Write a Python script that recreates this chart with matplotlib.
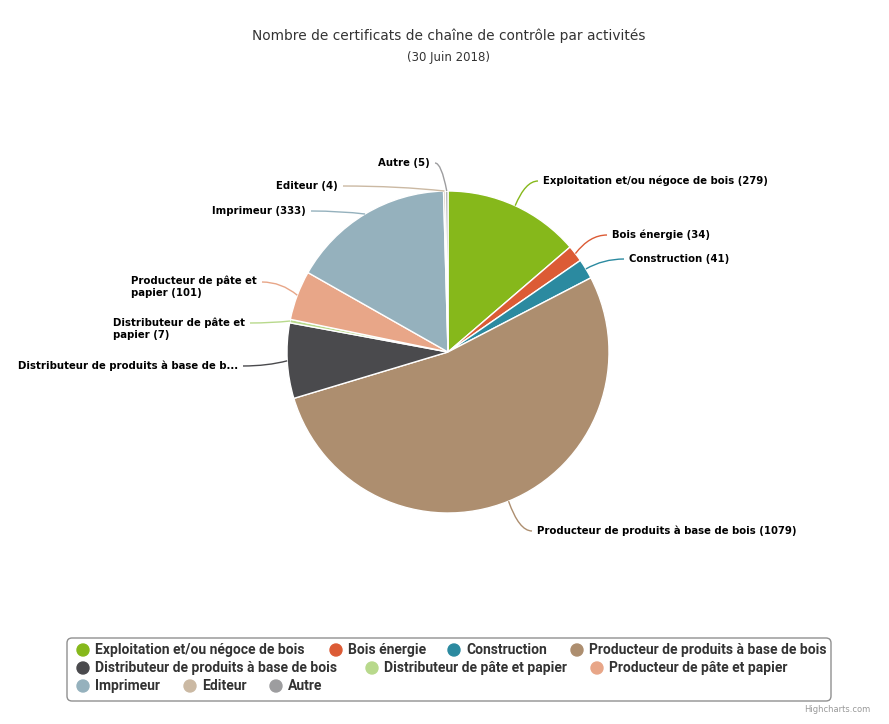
import matplotlib
matplotlib.use("Agg")
import matplotlib.pyplot as plt
from matplotlib.patches import Circle, FancyBboxPatch, PathPatch
from matplotlib.path import Path
import numpy as np

W, H = 889, 724

categories = [
    "Exploitation et/ou négoce de bois",
    "Bois énergie",
    "Construction",
    "Producteur de produits à base de bois",
    "Distributeur de produits à base de bois",
    "Distributeur de pâte et papier",
    "Producteur de pâte et papier",
    "Imprimeur",
    "Editeur",
    "Autre",
]
values = [279, 34, 41, 1079, 154, 7, 101, 333, 4, 5]
colors = ["#86b81b", "#dc5b35", "#2b8aa0", "#ad8e6f", "#4a4a4d",
          "#b8d98c", "#e8a688", "#95b1bd", "#cbb9a3", "#9d9d9f"]
pie_labels = [
    "Exploitation et/ou négoce de bois (279)",
    "Bois énergie (34)",
    "Construction (41)",
    "Producteur de produits à base de bois (1079)",
    "Distributeur de produits à base de b...",
    "Distributeur de pâte et\npapier (7)",
    "Producteur de pâte et\npapier (101)",
    "Imprimeur (333)",
    "Editeur (4)",
    "Autre (5)",
]

# label anchors in pixels (x, y of first line, side)
label_pos = [(543, 181, "r"), (612, 235, "r"), (629, 259, "r"), (537, 531, "r"),
             (238, 366, "l"), (245, 323, "l"), (257, 282, "l"), (306, 211, "l"),
             (338, 186, "l"), (430, 163, "l")]

# legend rows: item indices and marker x position
legend_rows = [[(0, 83), (1, 336), (2, 454), (3, 577)],
               [(4, 83), (5, 372), (6, 597)],
               [(7, 83), (8, 190), (9, 276)]]
legend_y = [650, 668, 686]


def fy(py):
    return H - py


fig = plt.figure(figsize=(W / 100, H / 100), dpi=100)
ax = fig.add_axes([0, 0, 1, 1])

cx, cy, R = 448, fy(352), 161
wedges, _ = ax.pie(values, colors=colors, startangle=90, counterclock=False,
                   radius=R, center=(cx, cy),
                   wedgeprops=dict(edgecolor="white", linewidth=1))
ax.set_xlim(0, W)
ax.set_ylim(0, H)
ax.set_aspect("equal")
ax.axis("off")

lab_font = dict(family="DejaVu Sans", fontsize=7.3, fontweight="bold", color="#000000")
for w, lab, (lx, ly, side), col in zip(wedges, pie_labels, label_pos, colors):
    m = np.deg2rad((w.theta1 + w.theta2) / 2)
    p0 = (cx + R * np.cos(m), cy + R * np.sin(m))
    if side == "r":
        p2 = (lx - 5, fy(ly))
        ax.text(lx, fy(ly), lab, ha="left", va="center", **lab_font)
    else:
        p2 = (lx + 5, fy(ly))
        if "\n" in lab:
            ax.text(lx, fy(ly) + 6, lab, ha="right", va="top", multialignment="left",
                    linespacing=1.25, **lab_font)
        else:
            ax.text(lx, fy(ly), lab, ha="right", va="center", **lab_font)
    p1 = (p0[0] + 0.45 * (p2[0] - p0[0]), p2[1])
    path = Path([p0, p1, p2], [Path.MOVETO, Path.CURVE3, Path.CURVE3])
    ax.add_patch(PathPatch(path, facecolor="none", edgecolor=col, linewidth=1))

fig.text(449 / W, 1 - 36 / H, "Nombre de certificats de chaîne de contrôle par activités",
         ha="center", va="center", fontsize=9.9, color="#333333")
fig.text(449 / W, 1 - 57 / H, "(30 Juin 2018)", ha="center", va="center",
         fontsize=8.5, color="#333333")

box = FancyBboxPatch((67, fy(701)), 764, 63, boxstyle="round,pad=0,rounding_size=5",
                     facecolor="none", edgecolor="#909090", linewidth=1)
ax.add_patch(box)
for row, yy in zip(legend_rows, legend_y):
    for idx, mx in row:
        ax.add_patch(Circle((mx, fy(yy)), 6, color=colors[idx]))
        ax.text(mx + 12, fy(yy), categories[idx], ha="left", va="center",
                family=["Roboto", "DejaVu Sans"], fontsize=10,
                fontweight="bold", color="#333333")

fig.text(870 / W, 1 - 709 / H, "Highcharts.com", ha="right", va="center",
         fontsize=6, color="#999999")

fig.savefig("out.png", dpi=100)
